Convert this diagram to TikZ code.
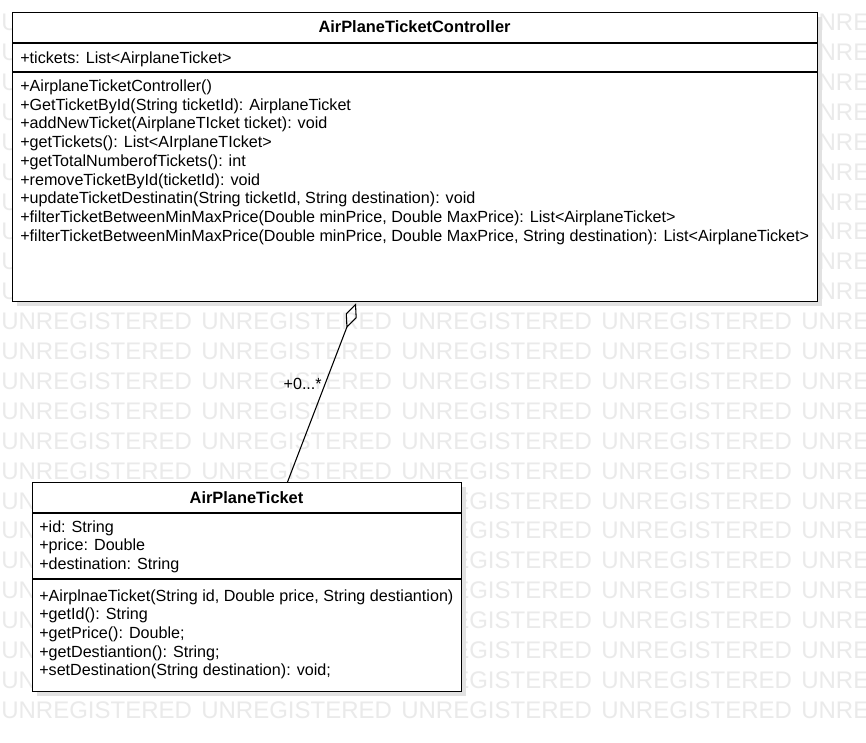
\documentclass[tikz,border=0pt]{standalone}
\usepackage{fontspec}
\setmainfont{Liberation Sans}
\usetikzlibrary{arrows.meta,calc}
\definecolor{wmcol}{RGB}{234,234,234}
\definecolor{shadowcol}{RGB}{226,226,226}
\begin{document}
\begin{tikzpicture}[x=0.75pt,y=-0.75pt,
  wm/.style={text=wmcol,font=\fontsize{18}{18}\selectfont,inner sep=0pt,anchor=base west},
  classbox/.style={draw=black,fill=white,line width=1pt,inner sep=0pt,anchor=north west},
  sep/.style={draw=black,line width=1pt},
  shadowbox/.style={fill=shadowcol},
  txt/.style={font=\fontsize{12.1}{14}\selectfont,inner sep=0pt,anchor=base west},
  ttl/.style={font=\fontsize{12.3}{14}\selectfont\bfseries,inner sep=0pt,anchor=base},
  assoc/.style={draw=black,line width=0.8pt,-{Diamond[open,length=20pt,width=8.8pt,line width=0.8pt]}}
]
\useasboundingbox (0,0) rectangle (866,742);
\clip (0,0) rectangle (866,742);
\fill[white] (0,0) rectangle (866,742);
% watermark
\foreach \r in {0,...,23}{
  \foreach \c in {0,...,4}{
    \node[wm] (wm-\r-\c) at ({1+200*\c},{30.6+29.9*\r}) {UNREGISTERED};
  }
}
% shadows
\fill[shadowbox] (17,17) rectangle (822,306);
\fill[shadowbox] (37,487) rectangle (466,696);
% class boxes
\node[classbox,minimum width=603.75pt,minimum height=216.75pt] (ctrl) at (12,12) {};
\node[classbox,minimum width=321.75pt,minimum height=156.75pt] (tk) at (32,482) {};
\draw[sep] (12,43) -- (817,43);
\draw[sep] (12,72) -- (817,72);
\draw[sep] (32,513) -- (461,513);
\draw[sep] (32,579) -- (461,579);
% controller texts
\node[ttl] (ctrl-title) at (414.5,32.5) {AirPlaneTicketController};
\node[txt] (ctrl-a1) at (20,64) {+tickets: List<AirplaneTicket>};
\foreach \t [count=\i from 0] in {
  {+AirplaneTicketController()},
  {+GetTicketById(String ticketId): AirplaneTicket},
  {+addNewTicket(AirplaneTIcket ticket): void},
  {+getTickets(): List<AIrplaneTIcket>},
  {+getTotalNumberofTickets(): int},
  {+removeTicketById(ticketId): void},
  {+updateTicketDestinatin(String ticketId, String destination): void},
  {+filterTicketBetweenMinMaxPrice(Double minPrice, Double MaxPrice): List<AirplaneTicket>},
  {+filterTicketBetweenMinMaxPrice(Double minPrice, Double MaxPrice, String destination): List<AirplaneTicket>}}{
  \node[txt] (ctrl-m\i) at (20,{91.5+18.7*\i}) {\t};
}
% ticket texts
\node[ttl] (tk-title) at (246.5,503) {AirPlaneTicket};
\foreach \t [count=\i from 0] in {
  {+id: String},
  {+price: Double},
  {+destination: String}}{
  \node[txt] (tk-a\i) at (39,{532+18.7*\i}) {\t};
}
\foreach \t [count=\i from 0] in {
  {+AirplnaeTicket(String id, Double price, String destiantion)},
  {+getId(): String},
  {+getPrice(): Double;},
  {+getDestiantion(): String;},
  {+setDestination(String destination): void;}}{
  \node[txt] (tk-m\i) at (39,{601+18.7*\i}) {\t};
}
% aggregation
\coordinate (pA) at ($(tk.north west)+(255.5,0)$);
\coordinate (pB) at ($(ctrl.south west)+(344,1)$);
\draw[assoc] (pA) -- (pB);
\node[txt,anchor=base east] (mult) at (322,389) {+0...*};
\end{tikzpicture}
\end{document}
